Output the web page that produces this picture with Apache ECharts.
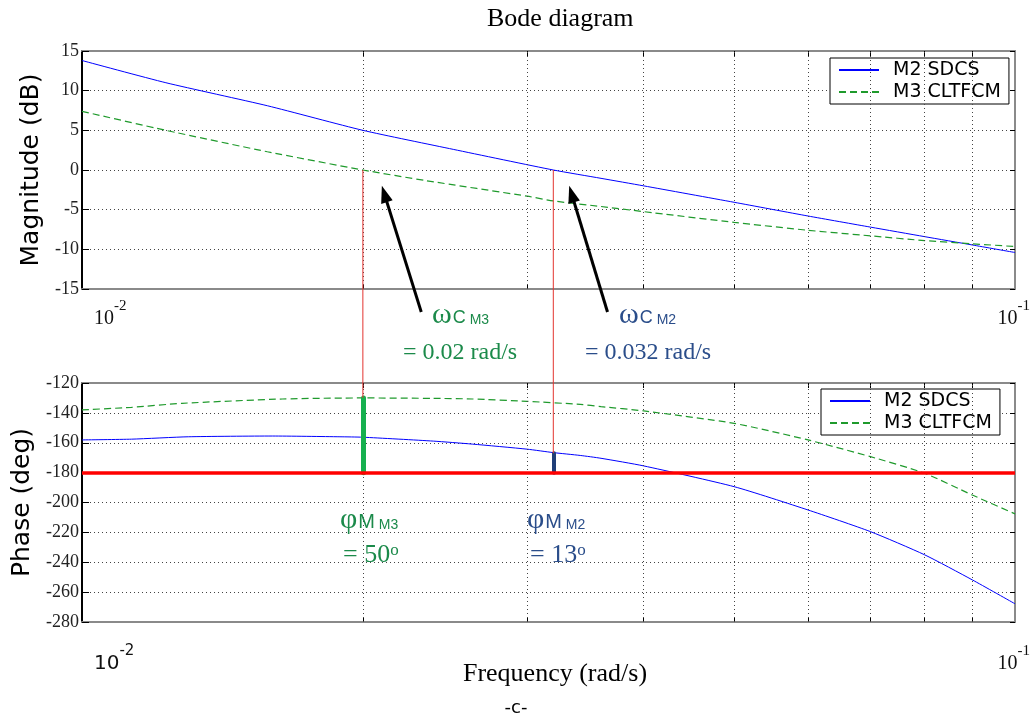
<!DOCTYPE html>
<html>
<head>
<meta charset="utf-8">
<script src="https://cdn.jsdelivr.net/npm/echarts@6/dist/echarts.min.js"></script>
<style>
  html, body { margin: 0; padding: 0; background: #fff; }
  #chart { width: 1030px; height: 717px; }
</style>
</head>
<body>
<div id="chart"></div>
<script>
// ---- Bode data (frequency in rad/s) ----
const magFreqM2  = [0.01, 0.0123, 0.0158, 0.02, 0.025, 0.032, 0.036, 0.04, 0.05, 0.06, 0.07, 0.08, 0.09, 0.1];
const magM2      = [13.8, 11.0, 8.1, 5.0, 2.6, 0.0, -1.05, -2.0, -4.07, -5.8, -7.2, -8.4, -9.45, -10.4];

const magFreqM3  = [0.01, 0.0123, 0.0158, 0.02, 0.0234, 0.03, 0.032, 0.036, 0.04, 0.05, 0.06, 0.07, 0.08, 0.09, 0.1];
const magM3      = [7.4, 5.0, 2.3, 0.0, -1.35, -3.3, -3.9, -4.6, -5.25, -6.6, -7.6, -8.3, -8.9, -9.3, -9.65];

const phFreqM2   = [0.01, 0.0113, 0.013, 0.016, 0.0189, 0.02, 0.0238, 0.0262, 0.03, 0.032, 0.0342, 0.036, 0.04, 0.05, 0.06, 0.07, 0.08, 0.09, 0.1];
const phaseM2    = [-158.1, -157.6, -156, -155.5, -156, -156.3, -158.9, -160.9, -164.3, -166.6, -168.5, -170.4, -175.5, -189.4, -205, -219.5, -235, -251.8, -267.8];

const phFreqM3   = [0.01, 0.0113, 0.0128, 0.0164, 0.02, 0.0238, 0.0262, 0.03, 0.0342, 0.036, 0.04, 0.05, 0.06, 0.07, 0.08, 0.09, 0.1];
const phaseM3    = [-138, -136.3, -133.6, -130.7, -130, -130.3, -130.7, -132.3, -134.3, -135.8, -138.7, -147, -158.1, -169.3, -180.4, -195, -207.6];

const seriesNames = ['M2 SDCS', 'M3 CLTFCM'];

// decade tick labels and the intermediate (2..9) grid frequencies
const decadeTicks  = [0.01, 0.1];
const decadeLabels = [['10', '-2'], ['10', '-1']];
const minorFreqs   = [0.02, 0.03, 0.04, 0.05, 0.06, 0.07, 0.08, 0.09];

// crossover frequencies and phase margins
const crossFreq    = { M3: 0.02, M2: 0.032 };
const phaseMargin  = { M3: 50, M2: 13 };
const criticalPhase = -180;

// ---- styles ----
const SERIF = '"Liberation Serif", "Times New Roman", serif';
const SANS  = '"DejaVu Sans", Verdana, sans-serif';
const ARIAL = '"Liberation Sans", Arial, sans-serif';
const BLUE = '#0000ff';
const GREEN = '#1f9a2c';
const TXT_GREEN = '#1b8a4a';
const TXT_BLUE = '#2a4d8a';
const FRAME = '#8a8a8a';
const DOT = { color: '#444', width: 1, type: [1, 3] };

const pairs = (f, v) => f.map((x, i) => [x, v[i]]);

const chart = echarts.init(document.getElementById('chart'), null, { renderer: 'canvas' });

function freqAxes(gi) {
  const base = {
    type: 'log', logBase: 10, gridIndex: gi, min: 0.01, max: 0.1,
    axisLine: { show: true, onZero: false, lineStyle: { color: FRAME, width: 2 } },
    axisTick: { show: true, inside: true, length: 5, customValues: minorFreqs, lineStyle: { color: '#000', width: 1 } },
    axisLabel: { show: false },
    splitLine: { show: false },
    minorTick: { show: false }
  };
  return [Object.assign({ position: 'bottom' }, base), Object.assign({ position: 'top' }, base)];
}

function valueAxes(gi, min, max, interval, name, nameGap) {
  return [
    {
      type: 'value', gridIndex: gi, min, max, interval, position: 'left',
      name, nameLocation: 'middle', nameGap,
      nameTextStyle: { fontFamily: SANS, fontSize: 25, color: '#000' },
      axisLine: { show: true, onZero: false, lineStyle: { color: '#000', width: 2 } },
      axisTick: { show: true, inside: true, length: 7, lineStyle: { color: '#000', width: 1 } },
      axisLabel: { fontFamily: SERIF, fontSize: 18, color: '#222', margin: 3 },
      splitLine: { show: true, lineStyle: DOT }
    },
    {
      type: 'value', gridIndex: gi, min, max, interval, position: 'right',
      axisLine: { show: true, onZero: false, lineStyle: { color: FRAME, width: 2 } },
      axisTick: { show: true, inside: true, length: 5, lineStyle: { color: '#000', width: 1 } },
      axisLabel: { show: false },
      splitLine: { show: false }
    }
  ];
}

// vertical dotted grid at 2..9 x 10^-2, drawn under the curves
function gridHelper(xi, yi, yMin) {
  return {
    type: 'line', xAxisIndex: xi, yAxisIndex: yi, z: 1, silent: true,
    data: [[0.01, yMin]], symbol: 'none', lineStyle: { opacity: 0 },
    markLine: {
      silent: true, symbol: ['none', 'none'], label: { show: false }, animation: false,
      lineStyle: DOT,
      data: minorFreqs.map(f => ({ xAxis: f }))
    }
  };
}

const legendBase = {
  orient: 'vertical', data: seriesNames,
  itemWidth: 40, itemHeight: 14, itemGap: 2,
  padding: [2, 8, 2, 8],
  borderColor: '#000', borderWidth: 1, backgroundColor: '#fff',
  itemStyle: { opacity: 0 },
  textStyle: { fontFamily: SANS, fontSize: 19, lineHeight: 20, color: '#000', padding: [0, 0, 0, 9] },
  selectedMode: false
};

function curve(name, xi, f, v, color, dashed) {
  return {
    name, type: 'line', xAxisIndex: xi, yAxisIndex: xi, z: 3,
    data: pairs(f, v), symbol: 'none', showSymbol: false,
    smooth: 0.2,
    lineStyle: { color, width: dashed ? 1.2 : 1, type: dashed ? [7, 4] : 'solid' },
    itemStyle: { color }
  };
}

const option = {
  animation: false,
  backgroundColor: '#fff',
  title: {
    text: 'Bode diagram', left: 487, top: 6, padding: 0,
    textStyle: { fontFamily: SERIF, fontSize: 26, fontWeight: 'normal', color: '#000' }
  },
  legend: [
    Object.assign({ left: 830, top: 58 }, legendBase),
    Object.assign({ left: 821, top: 389 }, legendBase)
  ],
  grid: [
    { left: 82, right: 15, top: 51, height: 238 },
    { left: 82, right: 15, top: 383, height: 239 }
  ],
  xAxis: [...freqAxes(0), ...freqAxes(1)],
  yAxis: [
    ...valueAxes(0, -15, 15, 5, 'Magnitude (dB)', 38),
    ...valueAxes(1, -280, -120, 20, 'Phase (deg)', 47)
  ],
  series: [
    gridHelper(0, 0, -15),
    gridHelper(2, 2, -280),
    curve(seriesNames[0], 0, magFreqM2, magM2, BLUE, false),
    curve(seriesNames[1], 0, magFreqM3, magM3, GREEN, true),
    curve(seriesNames[0], 2, phFreqM2, phaseM2, BLUE, false),
    curve(seriesNames[1], 2, phFreqM3, phaseM3, GREEN, true),
    // phase margin bars and the -180 deg reference
    {
      type: 'line', xAxisIndex: 2, yAxisIndex: 2, z: 4, silent: true,
      data: [[0.01, criticalPhase]], symbol: 'none', lineStyle: { opacity: 0 },
      markLine: {
        silent: true, symbol: ['none', 'none'], label: { show: false }, animation: false,
        data: [
          [
            { coord: [crossFreq.M3, criticalPhase], lineStyle: { color: '#16b04f', width: 5, type: 'solid', cap: 'round' } },
            { coord: [crossFreq.M3, criticalPhase + phaseMargin.M3] }
          ],
          [
            { coord: [crossFreq.M2, criticalPhase], lineStyle: { color: '#1f3e78', width: 4, type: 'solid', cap: 'round' } },
            { coord: [crossFreq.M2, criticalPhase + phaseMargin.M2] }
          ]
        ]
      }
    },
    {
      type: 'line', xAxisIndex: 2, yAxisIndex: 2, z: 5, silent: true,
      data: [[0.01, criticalPhase]], symbol: 'none', lineStyle: { opacity: 0 },
      markLine: {
        silent: true, symbol: ['none', 'none'], label: { show: false }, animation: false,
        lineStyle: { color: '#ff0000', width: 3.5, type: 'solid' },
        data: [{ yAxis: criticalPhase }]
      }
    }
  ]
};

chart.setOption(option);

// ---- annotations placed through the axes ----
const px = (gi, f, v) => chart.convertToPixel({ gridIndex: gi }, [f, v]);
const g = [];

// red guides from the 0 dB crossing down to the phase curve
[['M3', criticalPhase + phaseMargin.M3], ['M2', criticalPhase + phaseMargin.M2]].forEach(([k, ph]) => {
  const a = px(0, crossFreq[k], 0);
  const b = px(1, crossFreq[k], ph);
  g.push({ type: 'line', z: 50, shape: { x1: a[0], y1: a[1], x2: b[0], y2: b[1] },
           style: { stroke: '#e3342f', lineWidth: 1 } });
});

// arrows pointing at the crossings (data units of the magnitude plot)
const arrows = [
  { from: [0.0231, -17.9], to: [0.02096, -2.0] },
  { from: [0.03658, -17.9], to: [0.03328, -2.0] }
];
arrows.forEach(({ from, to }) => {
  const p0 = px(0, from[0], from[1]);
  const p1 = px(0, to[0], to[1]);
  const dx = p1[0] - p0[0], dy = p1[1] - p0[1];
  const L = Math.hypot(dx, dy), ux = dx / L, uy = dy / L;
  const hl = 17, hw = 6;
  const bx = p1[0] - ux * hl, by = p1[1] - uy * hl;
  g.push({ type: 'line', z: 60, shape: { x1: p0[0], y1: p0[1], x2: bx + ux * 2, y2: by + uy * 2 },
           style: { stroke: '#000', lineWidth: 3 } });
  g.push({ type: 'polygon', z: 60, shape: { points: [
    [p1[0], p1[1]], [bx - uy * hw, by + ux * hw], [bx + uy * hw, by - ux * hw]
  ] }, style: { fill: '#000' } });
});

// decade tick labels 10^-2, 10^-1 under each plot
const tickLabelFonts = [[SERIF, SERIF], [SANS, SERIF]];
[0, 1].forEach(gi => {
  decadeTicks.forEach((f, i) => {
    const p = px(gi, f, gi === 0 ? -15 : -280);
    const first = i === 0;
    const fam = tickLabelFonts[gi][i];
    g.push({
      type: 'text', z: 40,
      x: first ? p[0] + 12 : p[0] + 15,
      y: gi === 0 ? p[1] + 40 : p[1] + 52,
      style: {
        text: '{b|' + decadeLabels[i][0] + '}{e|' + decadeLabels[i][1] + '}',
        align: first ? 'left' : 'right', verticalAlign: 'bottom', fill: '#111',
        rich: {
          b: { fontFamily: fam, fontSize: 20, verticalAlign: 'bottom', lineHeight: 30 },
          e: { fontFamily: fam, fontSize: 15, verticalAlign: 'top', lineHeight: 30 }
        }
      }
    });
  });
});

function symbolLabel(x, y, sym, sub, idx, color) {
  return {
    type: 'text', z: 40, x, y,
    style: {
      text: '{w|' + sym + '}{c|' + sub + '}{s| ' + idx + '}',
      align: 'left', verticalAlign: 'bottom', fill: color,
      rich: {
        w: { fontFamily: SERIF, fontSize: 30, verticalAlign: 'bottom', fill: color },
        c: { fontFamily: ARIAL, fontSize: sub === 'C' ? 18 : 20, verticalAlign: 'bottom', fill: color, padding: [0, 0, 3, 1] },
        s: { fontFamily: ARIAL, fontSize: 14, verticalAlign: 'bottom', fill: color, padding: [0, 0, 3, 0] }
      }
    }
  };
}
function valueLabel(x, y, text, color, deg) {
  return {
    type: 'text', z: 40, x, y,
    style: {
      text: '{t|' + text + '}' + (deg ? '{o|o}' : ''),
      align: 'left', verticalAlign: 'middle', fill: color,
      rich: {
        t: { fontFamily: SERIF, fontSize: deg ? 26 : 24, verticalAlign: 'bottom', fill: color },
        o: { fontFamily: SERIF, fontSize: 17, verticalAlign: 'top', fill: color }
      }
    }
  };
}

g.push(symbolLabel(432, 330, 'ω', 'C', 'M3', TXT_GREEN));
g.push(valueLabel(403, 353, '= ' + crossFreq.M3 + ' rad/s', TXT_GREEN, false));
g.push(symbolLabel(619, 330, 'ω', 'C', 'M2', TXT_BLUE));
g.push(valueLabel(585, 353, '= ' + crossFreq.M2 + ' rad/s', TXT_BLUE, false));

g.push(symbolLabel(340, 535, 'φ', 'M', 'M3', TXT_GREEN));
g.push(valueLabel(343, 555, '= ' + phaseMargin.M3, TXT_GREEN, true));
g.push(symbolLabel(527, 535, 'φ', 'M', 'M2', TXT_BLUE));
g.push(valueLabel(530, 555, '= ' + phaseMargin.M2, TXT_BLUE, true));

// axis title and sub-figure tag
g.push({ type: 'text', z: 40, x: 555, y: 674,
         style: { text: 'Frequency (rad/s)', align: 'center', verticalAlign: 'middle',
                  fontFamily: SERIF, fontSize: 26, fill: '#000' } });
g.push({ type: 'text', z: 40, x: 516, y: 708,
         style: { text: '-c-', align: 'center', verticalAlign: 'middle',
                  fontFamily: SANS, fontSize: 18, fill: '#000' } });

chart.setOption({ graphic: g });
</script>
</body>
</html>
